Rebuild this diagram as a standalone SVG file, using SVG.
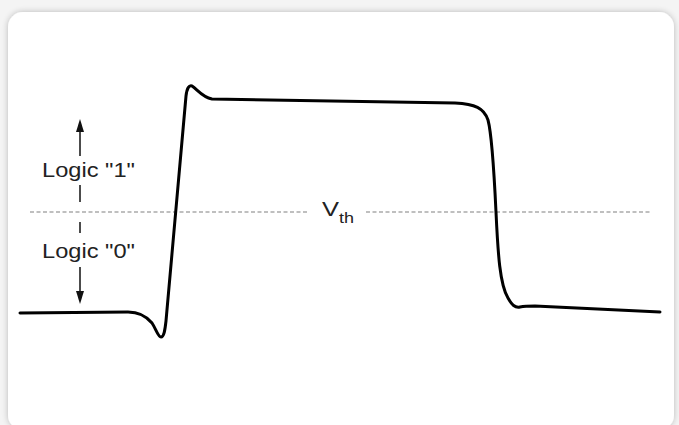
<svg xmlns="http://www.w3.org/2000/svg" width="679" height="425" viewBox="0 0 679 425">
  <defs>
    <filter id="shadow" x="-5%" y="-5%" width="110%" height="110%">
      <feGaussianBlur in="SourceAlpha" stdDeviation="3"/>
      <feOffset dx="0" dy="0" result="b"/>
      <feComponentTransfer><feFuncA type="linear" slope="0.25"/></feComponentTransfer>
      <feMerge><feMergeNode/><feMergeNode in="SourceGraphic"/></feMerge>
    </filter>
    <marker id="arrow" viewBox="0 0 8 12" refX="8" refY="6" markerWidth="12" markerHeight="8" orient="auto-start-reverse" markerUnits="userSpaceOnUse">
      <path d="M0,0 L12,4 L0,8 Z" fill="#111"/>
    </marker>
    <style>
      .lbl { font-family: "Liberation Sans", Arial, sans-serif; fill: #222; }
      .thr { stroke: #aaa; stroke-width: 1.3; stroke-dasharray: 4 2.5; fill: none; }
      .ax { stroke: #111; stroke-width: 1.5; fill: none; }
      .wave { stroke: #000; stroke-width: 3; fill: none; stroke-linejoin: round; stroke-linecap: round; }
    </style>
  </defs>
  <rect x="0" y="0" width="679" height="425" fill="#f4f4f4"/>
  <rect x="8" y="12" width="666" height="418" rx="15" fill="#ffffff" filter="url(#shadow)"/>

  <g id="threshold">
    <line class="thr" x1="30" y1="212" x2="308" y2="212"/>
    <line class="thr" x1="366" y1="212" x2="650" y2="212"/>
    <text class="lbl" x="322" y="216" font-size="20" textLength="17" lengthAdjust="spacingAndGlyphs">V</text>
    <text class="lbl" x="339" y="223" font-size="14" textLength="15" lengthAdjust="spacingAndGlyphs">th</text>
  </g>

  <g id="logic1">
    <path d="M76,132 L80,119 L84,132 Z" fill="#111"/>
    <line class="ax" x1="80" y1="156" x2="80" y2="128"/>
    <text class="lbl" x="42" y="177" font-size="20" textLength="93" lengthAdjust="spacingAndGlyphs">Logic "1"</text>
    <line class="ax" x1="80" y1="185" x2="80" y2="202"/>
  </g>

  <g id="logic0">
    <line class="ax" x1="80" y1="222" x2="80" y2="233"/>
    <text class="lbl" x="42" y="258" font-size="20" textLength="93" lengthAdjust="spacingAndGlyphs">Logic "0"</text>
    <line class="ax" x1="80" y1="267" x2="80" y2="295"/>
    <path d="M76,291 L80,304 L84,291 Z" fill="#111"/>
  </g>

  <g id="connectors">
    <path class="wave" d="M20,313 L128,312 C140,312 147,317 152,323 C156,329 158,337 161,337 C164,337 165,330 166,321 L186,96 C187,88 189,85 192,86 C197,89 202,97 212,99 L455,103 C475,104 484,108 488,120 C492,135 494,170 496,212 C498,255 500,285 508,298 C512,305 515,308 520,307 C525,306 528,306 535,306 L660,312"/>
  </g>
</svg>
